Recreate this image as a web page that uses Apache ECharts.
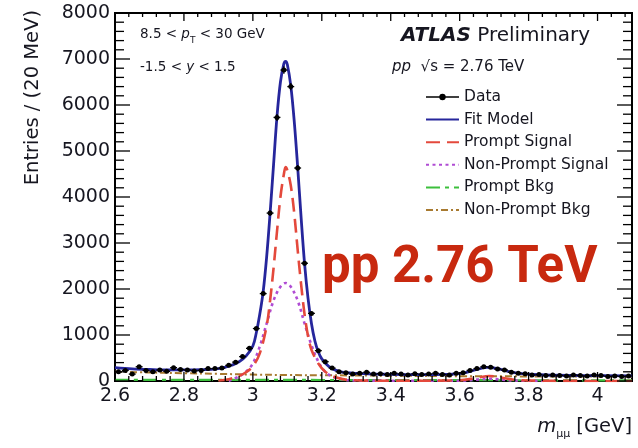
<!DOCTYPE html>
<html>
<head>
<meta charset="utf-8">
<script src="https://cdn.jsdelivr.net/npm/echarts@6/dist/echarts.min.js"></script>
<style>
  html, body { margin: 0; padding: 0; background: #fff; }
  #chart { width: 638px; height: 448px; }
</style>
</head>
<body>
<div id="chart"></div>
<script>
// Dimuon invariant-mass spectrum, 20 MeV bins (bin centres in GeV)
const binCenters = [
  2.61, 2.63, 2.65, 2.67, 2.69, 2.71, 2.73, 2.75, 2.77, 2.79,
  2.81, 2.83, 2.85, 2.87, 2.89, 2.91, 2.93, 2.95, 2.97, 2.99,
  3.01, 3.03, 3.05, 3.07, 3.09, 3.11, 3.13, 3.15, 3.17, 3.19,
  3.21, 3.23, 3.25, 3.27, 3.29, 3.31, 3.33, 3.35, 3.37, 3.39,
  3.41, 3.43, 3.45, 3.47, 3.49, 3.51, 3.53, 3.55, 3.57, 3.59,
  3.61, 3.63, 3.65, 3.67, 3.69, 3.71, 3.73, 3.75, 3.77, 3.79,
  3.81, 3.83, 3.85, 3.87, 3.89, 3.91, 3.93, 3.95, 3.97, 3.99,
  4.01, 4.03, 4.05, 4.07, 4.09
];
const entries = [
  200, 230, 150, 310, 230, 200, 240, 210, 290, 250,
  240, 220, 230, 270, 270, 280, 340, 410, 530, 710,
  1140, 1900, 3650, 5730, 6760, 6400, 4630, 2560, 1470, 660,
  420, 280, 200, 180, 150, 170, 190, 150, 160, 140,
  170, 150, 130, 160, 140, 150, 170, 140, 130, 170,
  180, 230, 270, 310, 300, 260, 240, 190, 170, 160,
  130, 140, 120, 130, 120, 110, 130, 120, 110, 130,
  120, 100, 110, 100, 110
];
const binHalfWidth = 0.01;

// Fit model (total)
const fitX = [2.60, 2.65, 2.70, 2.75, 2.80, 2.85, 2.90, 2.93, 2.96, 2.98, 3.00, 3.01, 3.02, 3.03, 3.04, 3.05,
              3.06, 3.07, 3.08, 3.09, 3.095, 3.10, 3.11, 3.12, 3.13, 3.14, 3.15, 3.16, 3.17, 3.18, 3.19,
              3.20, 3.22, 3.25, 3.30, 3.40, 3.50, 3.58, 3.62, 3.65, 3.68, 3.71, 3.74, 3.78, 3.85, 3.95, 4.10];
const fitY = [290, 265, 250, 240, 240, 245, 270, 320, 420, 540, 760, 1050, 1450, 1950, 2700, 3650,
              4700, 5750, 6500, 6900, 6950, 6880, 6420, 5650, 4650, 3550, 2550, 1800, 1250, 870, 630,
              480, 320, 210, 165, 145, 140, 150, 190, 250, 295, 270, 210, 160, 130, 120, 112];

// Prompt J/psi + psi(2S) signal
const promptX = [2.90, 2.93, 2.96, 2.98, 3.00, 3.02, 3.04, 3.05, 3.06, 3.07, 3.08, 3.09, 3.095, 3.10,
                 3.11, 3.12, 3.13, 3.14, 3.15, 3.16, 3.17, 3.19, 3.21, 3.24, 3.28, 3.40, 3.60, 3.65,
                 3.686, 3.72, 3.76, 3.85, 4.10];
const promptY = [10, 40, 110, 190, 320, 600, 1200, 1750, 2450, 3250, 4000, 4500, 4650, 4580,
                 4250, 3650, 2850, 2100, 1450, 980, 680, 380, 200, 80, 20, 5, 15, 70,
                 110, 75, 25, 5, 0];

// Non-prompt signal
const nonPromptX = [2.93, 2.96, 2.98, 3.00, 3.02, 3.04, 3.06, 3.08, 3.095, 3.11, 3.13, 3.15, 3.17, 3.19,
                    3.21, 3.24, 3.30, 3.60, 3.65, 3.686, 3.72, 3.76, 3.85];
const nonPromptY = [0, 100, 200, 380, 750, 1250, 1750, 2050, 2130, 2050, 1750, 1250, 780, 420,
                    200, 70, 10, 5, 30, 50, 30, 10, 0];

// Background components
const promptBkgX = [2.6, 2.8, 3.0, 3.2, 3.4, 3.6, 3.8, 4.1];
const promptBkgY = [25, 25, 24, 22, 20, 18, 16, 14];
const nonPromptBkgX = [2.6, 2.7, 2.8, 2.9, 3.0, 3.1, 3.2, 3.4, 3.6, 3.8, 4.1];
const nonPromptBkgY = [200, 185, 170, 155, 140, 130, 125, 115, 105, 100, 95];

// Axis ranges and tick marks
const xRange = [2.6, 4.1];
const yRange = [0, 8000];
const xMajorTicks = [2.6, 2.8, 3.0, 3.2, 3.4, 3.6, 3.8, 4.0];
const yMajorTicks = [0, 1000, 2000, 3000, 4000, 5000, 6000, 7000, 8000];
const minorDivisions = 5;

const FONT = 'DejaVu Sans';
const INK = '#161620';

const pairs = (xs, ys) => xs.map((x, i) => [x, ys[i]]);

// minor tick positions: each major interval split into equal parts, continued up to the axis end
function minorTicks(majors, end) {
  const step = (majors[1] - majors[0]) / minorDivisions;
  const out = [];
  for (let k = 1; ; k++) {
    const v = +(majors[0] + k * step).toFixed(6);
    if (v >= end - 1e-9) break;
    if (!majors.some(m => Math.abs(m - v) < 1e-9)) out.push(v);
  }
  return out;
}
const xMinorTicks = minorTicks(xMajorTicks, xRange[1]);
const yMinorTicks = minorTicks(yMajorTicks, yRange[1]);

const chart = echarts.init(document.getElementById('chart'), null, { renderer: 'canvas' });

const curve = (name, xs, ys, color, width, type, z) => ({
  name, type: 'line', xAxisIndex: 0, yAxisIndex: 0,
  data: pairs(xs, ys), symbol: 'none', smooth: 0.35, z,
  lineStyle: { color, width, type }, itemStyle: { color }
});

// Inward tick marks on all four sides of the frame
function tickSeries(name, values, axis, lenNear, lenFar) {
  return {
    name, type: 'custom', xAxisIndex: 0, yAxisIndex: 0, silent: true, clip: false, z: 8,
    data: values.map(v => [v]),
    renderItem(params, api) {
      const v = api.value(0);
      const st = { stroke: '#000', lineWidth: 1.3 };
      if (axis === 'x') {
        const b = api.coord([v, yRange[0]]), t = api.coord([v, yRange[1]]);
        return { type: 'group', children: [
          { type: 'line', shape: { x1: b[0], y1: b[1], x2: b[0], y2: b[1] - lenNear }, style: st },
          { type: 'line', shape: { x1: t[0], y1: t[1], x2: t[0], y2: t[1] + lenFar }, style: st }
        ] };
      }
      const l = api.coord([xRange[0], v]), r = api.coord([xRange[1], v]);
      return { type: 'group', children: [
        { type: 'line', shape: { x1: l[0], y1: l[1], x2: l[0] + lenNear, y2: l[1] }, style: st },
        { type: 'line', shape: { x1: r[0], y1: r[1], x2: r[0] - lenFar, y2: r[1] }, style: st }
      ] };
    }
  };
}

const option = {
  animation: false,
  grid: { left: 115, right: 6, top: 13, bottom: 67, show: true, borderColor: '#000', borderWidth: 2, backgroundColor: 'transparent' },
  xAxis: {
    type: 'value', min: xRange[0], max: xRange[1], interval: 0.2,
    axisLine: { show: true, onZero: false, lineStyle: { color: '#000', width: 2 } },
    axisTick: { show: false },
    axisLabel: {
      show: true, fontFamily: FONT, fontSize: 19, color: INK, margin: 6, showMaxLabel: false,
      formatter: v => String(+v.toFixed(1))
    },
    splitLine: { show: false }
  },
  yAxis: {
    type: 'value', min: yRange[0], max: yRange[1], interval: 1000,
    axisLine: { show: true, onZero: false, lineStyle: { color: '#000', width: 2 } },
    axisTick: { show: false },
    axisLabel: { show: true, fontFamily: FONT, fontSize: 19, color: INK, margin: 5, formatter: v => String(v) },
    splitLine: { show: false }
  },
  legend: {
    orient: 'vertical', left: 420, top: 84, itemWidth: 33, itemHeight: 8, itemGap: 6.6,
    selectedMode: false,
    textStyle: { fontFamily: FONT, fontSize: 15.5, color: INK },
    data: [
      { name: 'Data', lineStyle: { opacity: 1, width: 1.5, color: '#000', type: 'solid' } },
      { name: 'Fit Model', itemStyle: { opacity: 0 } },
      { name: 'Prompt Signal', itemStyle: { opacity: 0 } },
      { name: 'Non-Prompt Signal', itemStyle: { opacity: 0 } },
      { name: 'Prompt Bkg', itemStyle: { opacity: 0 } },
      { name: 'Non-Prompt Bkg', itemStyle: { opacity: 0 } }
    ]
  },
  series: [
    curve('Prompt Bkg', promptBkgX, promptBkgY, '#3cbf3c', 2.2, [14, 5, 4, 5], 2),
    curve('Non-Prompt Bkg', nonPromptBkgX, nonPromptBkgY, '#a87a30', 2, [7, 3, 2, 3], 2),
    curve('Non-Prompt Signal', nonPromptX, nonPromptY, '#b04cd4', 2.6, [3, 3.5], 3),
    curve('Prompt Signal', promptX, promptY, '#e4493c', 2.6, [14, 7], 3),
    curve('Fit Model', fitX, fitY, '#26269c', 2.8, 'solid', 4),
    {
      name: 'Data', type: 'line', xAxisIndex: 0, yAxisIndex: 0, z: 6,
      data: pairs(binCenters, entries),
      symbol: 'circle', symbolSize: 5, showSymbol: true,
      lineStyle: { opacity: 0 }, itemStyle: { color: '#000' }
    },
    {
      name: 'Data errors', type: 'custom', xAxisIndex: 0, yAxisIndex: 0, z: 6, silent: true,
      data: binCenters.map((x, i) => [x, entries[i], Math.sqrt(entries[i])]),
      renderItem(params, api) {
        const x = api.value(0), y = api.value(1), e = api.value(2);
        const lo = api.coord([x, y - e]), hi = api.coord([x, y + e]);
        const l = api.coord([x - binHalfWidth, y]), r = api.coord([x + binHalfWidth, y]);
        return {
          type: 'group',
          children: [
            { type: 'line', shape: { x1: lo[0], y1: lo[1], x2: hi[0], y2: hi[1] }, style: { stroke: '#000', lineWidth: 1.3 } },
            { type: 'line', shape: { x1: l[0], y1: l[1], x2: r[0], y2: r[1] }, style: { stroke: '#000', lineWidth: 1.3 } }
          ]
        };
      }
    },
    tickSeries('x major ticks', xMajorTicks, 'x', 9, 8),
    tickSeries('x minor ticks', xMinorTicks, 'x', 5, 4),
    tickSeries('y major ticks', yMajorTicks, 'y', 15, 15),
    tickSeries('y minor ticks', yMinorTicks, 'y', 9, 9)
  ],
  graphic: [
    {
      type: 'text', x: 33, y: 10, rotation: Math.PI / 2,
      style: { text: 'Entries / (20 MeV)', fontFamily: FONT, fontSize: 19.5, fill: INK, align: 'right', verticalAlign: 'middle' }
    },
    {
      type: 'text', x: 632, y: 427,
      style: {
        text: '{i|m}{s|μμ}{n| [GeV]}', align: 'right', verticalAlign: 'middle',
        rich: {
          i: { fontFamily: FONT, fontStyle: 'italic', fontSize: 19.5, fill: INK, lineHeight: 26, verticalAlign: 'middle' },
          s: { fontFamily: FONT, fontSize: 11, fill: INK, lineHeight: 14, verticalAlign: 'bottom' },
          n: { fontFamily: FONT, fontSize: 19.5, fill: INK, lineHeight: 26, verticalAlign: 'middle' }
        }
      }
    },
    {
      type: 'text', x: 140, y: 34,
      style: {
        text: '{n|8.5 < }{i|p}{s|T}{n| < 30 GeV}', align: 'left', verticalAlign: 'middle',
        rich: {
          n: { fontFamily: FONT, fontSize: 13.5, fill: INK, lineHeight: 22, verticalAlign: 'middle' },
          i: { fontFamily: FONT, fontStyle: 'italic', fontSize: 13.5, fill: INK, lineHeight: 22, verticalAlign: 'middle' },
          s: { fontFamily: FONT, fontSize: 9, fill: INK, lineHeight: 10, verticalAlign: 'bottom' }
        }
      }
    },
    {
      type: 'text', x: 140, y: 67,
      style: {
        text: '{n|-1.5 < }{i|y}{n| < 1.5}', align: 'left', verticalAlign: 'middle',
        rich: {
          n: { fontFamily: FONT, fontSize: 13.5, fill: INK },
          i: { fontFamily: FONT, fontStyle: 'italic', fontSize: 13.5, fill: INK }
        }
      }
    },
    {
      type: 'text', x: 401, y: 36,
      style: {
        text: '{b|ATLAS}{n| Preliminary}', align: 'left', verticalAlign: 'middle',
        rich: {
          b: { fontFamily: FONT, fontStyle: 'italic', fontWeight: 'bold', fontSize: 20, fill: INK },
          n: { fontFamily: FONT, fontSize: 20, fill: INK }
        }
      }
    },
    {
      type: 'text', x: 392, y: 67,
      style: {
        text: '{i|pp}{n|  √s = 2.76 TeV}', align: 'left', verticalAlign: 'middle',
        rich: {
          i: { fontFamily: FONT, fontStyle: 'italic', fontSize: 15, fill: INK },
          n: { fontFamily: FONT, fontSize: 15, fill: INK }
        }
      }
    },
    {
      type: 'text', x: 322, y: 269, z: 20,
      style: {
        text: 'pp 2.76 TeV', fontFamily: 'Roboto', fontWeight: 'bold', fontSize: 51,
        fill: '#c8290f', align: 'left', verticalAlign: 'middle'
      }
    }
  ]
};

chart.setOption(option);
</script>
</body>
</html>
